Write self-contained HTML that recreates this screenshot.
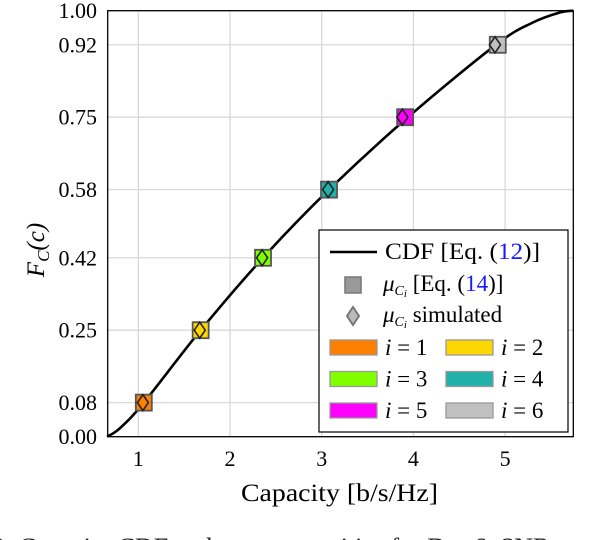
<!DOCTYPE html>
<html><head><meta charset="utf-8"><style>
body{margin:0;background:#fff;width:600px;height:540px;overflow:hidden;position:relative;font-family:"Liberation Serif",serif}
svg{position:absolute;left:0;top:0}
text{font-family:"Liberation Serif",serif}
</style></head><body>
<svg width="600" height="540" id="chart">
<g id="grid"></g>
<g id="curve"></g>
<g id="marks"></g>
<rect x="107.7" y="10.7" width="465.6" height="426" fill="none" stroke="#000" stroke-width="1.3"/>
<g id="ticks"></g>
<text x="241" y="501" font-size="25" textLength="197" lengthAdjust="spacingAndGlyphs">Capacity [b/s/Hz]</text>
<text transform="translate(44,250) rotate(-90)" font-size="25" text-anchor="middle" font-style="italic">F<tspan font-size="17" dy="5">C</tspan><tspan dy="-5">(c)</tspan></text>
<g>
<rect x="319" y="230" width="249" height="202" fill="#fff" stroke="#000" stroke-width="1.2"/>
<line x1="330" y1="252" x2="377" y2="252" stroke="#000" stroke-width="2.5"/>
<text x="385" y="259" font-size="23" textLength="155" lengthAdjust="spacingAndGlyphs">CDF [Eq. (<tspan fill="#1a1aff">12</tspan>)]</text>
<rect x="345" y="277" width="16" height="16" fill="#999" stroke="#777" stroke-width="1.5"/>
<text x="383" y="291" font-size="23"><tspan font-style="italic">μ</tspan><tspan font-size="14" font-style="italic" dy="4">C</tspan><tspan font-size="11" font-style="italic" dy="2">i</tspan><tspan dy="-6">  [Eq. (</tspan><tspan fill="#1a1aff">14</tspan>)]</text>
<polygon points="353,307 359,316 353,325 347,316" fill="#bbb" stroke="#777" stroke-width="2"/>
<text x="383" y="322" font-size="23"><tspan font-style="italic">μ</tspan><tspan font-size="14" font-style="italic" dy="4">C</tspan><tspan font-size="11" font-style="italic" dy="2">i</tspan><tspan dy="-6">  simulated</tspan></text>
<g id="legsw"></g>
</g>
<text x="-8" y="556" font-size="26" fill="#222">2: Capacity CDF and mean capacities for D = 6, SNR</text>
</svg>
<script>
const xTicks=[1,2,3,4,5];
const yTicks=[0,0.08,0.25,0.42,0.58,0.75,0.92,1.0];
const yTickLabels=["0.00","0.08","0.25","0.42","0.58","0.75","0.92","1.00"];
const cdfX=[0.66,0.8,1.06,1.68,2.36,3.08,3.94,4.9,5.3,5.6,5.74];
const cdfY=[0,0.02,0.08,0.25,0.42,0.58,0.75,0.92,0.972,0.996,1.0];
const muX=[1.06,1.68,2.36,3.08,3.91,4.92];
const simX=[1.05,1.67,2.35,3.07,3.88,4.89];
const muY=[0.08,0.25,0.42,0.58,0.75,0.92];
const colors=["#ff8000","#ffd700","#80ff00","#20b2aa","#ff00ff","#c0c0c0"];
const NS="http://www.w3.org/2000/svg";
const X=v=>138.3+(v-1)*91.7, Y=v=>436.7-v*426;
function mk(t,a,p){const e=document.createElementNS(NS,t);for(const k in a)e.setAttribute(k,a[k]);p.appendChild(e);return e;}
const grid=document.getElementById('grid'),ticks=document.getElementById('ticks');
xTicks.forEach(v=>{
 const l=mk('line',{x1:X(v),x2:X(v),y1:10.7,y2:436.7,stroke:'#d9d9d9','stroke-width':1.3},grid);
 
 const t=mk('text',{x:X(v),y:466,'font-size':22,'text-anchor':'middle'},ticks);t.textContent=v;
 
});
yTicks.forEach((v,i)=>{
 const l=mk('line',{x1:107.7,x2:573.3,y1:Y(v),y2:Y(v),stroke:'#d9d9d9','stroke-width':1.3},grid);
 
 const t=mk('text',{x:97,y:Y(v)+7.5,'font-size':22,'text-anchor':'end'},ticks);t.textContent=yTickLabels[i];
 
});
let pts=cdfX.map((x,i)=>[X(x),Y(cdfY[i])]);
let d='M'+pts[0][0]+','+pts[0][1];
for(let i=0;i<pts.length-1;i++){
 const p0=pts[Math.max(i-1,0)],p1=pts[i],p2=pts[i+1],p3=pts[Math.min(i+2,pts.length-1)];
 d+=` C${p1[0]+(p2[0]-p0[0])/6},${p1[1]+(p2[1]-p0[1])/6} ${p2[0]-(p3[0]-p1[0])/6},${p2[1]-(p3[1]-p1[1])/6} ${p2[0]},${p2[1]}`;
}
const c=mk('path',{d:d,fill:'none',stroke:'#000','stroke-width':2.6},document.getElementById('curve'));

const marks=document.getElementById('marks');
muX.forEach((x,i)=>{
 const cx=X(x),cy=Y(muY[i]);
 const r=mk('rect',{x:cx-8,y:cy-8,width:16,height:16,fill:colors[i],stroke:'#555','stroke-width':1.8},marks);
 
 const sx=X(simX[i]);
 const p=mk('polygon',{points:`${sx},${cy-8} ${sx+5.5},${cy} ${sx},${cy+8} ${sx-5.5},${cy}`,fill:colors[i],stroke:'#222','stroke-width':1.6},marks);
 
});
const lg=document.getElementById('legsw');
colors.forEach((col,i)=>{
 const cx=i%2?446:330, cy=347+Math.floor(i/2)*31.5;
 const r=mk('rect',{x:cx,y:cy-7,width:47,height:15,fill:col,stroke:'#999','stroke-width':1.3},lg);
 
 const t=mk('text',{x:cx+55,y:cy+8,'font-size':23},lg);
 t.innerHTML='<tspan font-style="italic">i</tspan> = '+(i+1);
 
});
</script>
</body></html>
